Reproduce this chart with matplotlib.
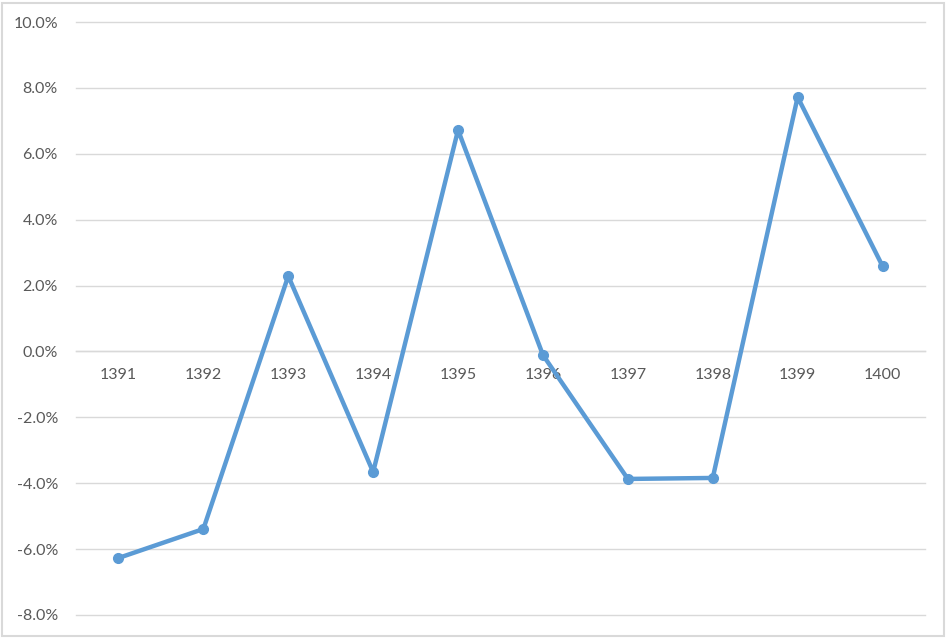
import matplotlib.pyplot as plt
from matplotlib.patches import Rectangle
from matplotlib.ticker import FuncFormatter

years = ['1391', '1392', '1393', '1394', '1395', '1396', '1397', '1398', '1399', '1400']
growth = [-6.27, -5.39, 2.29, -3.66, 6.72, -0.11, -3.87, -3.84, 7.72, 2.59]

plt.rcParams['font.family'] = ['Lato', 'DejaVu Sans']
text_color = '#595959'
grid_color = '#D9D9D9'
line_color = '#5B9BD5'

fig = plt.figure(figsize=(9.48, 6.38), dpi=100)
ax = fig.add_axes([76 / 948, 1 - 615 / 638, (925 - 76) / 948, (615 - 22) / 638])

x = list(range(len(years)))
ax.plot(x, growth, color=line_color, linewidth=3.2, marker='o', markersize=7,
        solid_joinstyle='round', zorder=3)

ax.set_xlim(-0.5, len(years) - 0.5)
ax.set_ylim(-8, 10)
ax.set_yticks(range(-8, 11, 2))
ax.yaxis.set_major_formatter(FuncFormatter(lambda v, _: f'{v:.1f}%'))
ax.grid(axis='y', color=grid_color, linewidth=1.0, zorder=0)
for gl in ax.get_ygridlines():
    gl.set_clip_on(False)

ax.set_xticks(x)
ax.set_xticklabels(years)
for s in ['top', 'right', 'left']:
    ax.spines[s].set_visible(False)
ax.spines['bottom'].set_position(('data', 0))
ax.spines['bottom'].set_color(grid_color)
ax.spines['bottom'].set_linewidth(1.0)

ax.tick_params(axis='x', length=0, pad=12, labelsize=11.5, labelcolor=text_color)
ax.tick_params(axis='y', length=0, pad=13, labelsize=11.5, labelcolor=text_color)

fig.patches.append(Rectangle((2 / 948, 2 / 638), 942 / 948, 633 / 638,
                             transform=fig.transFigure, fill=False,
                             edgecolor=grid_color, linewidth=1.5))

fig.savefig('out.png', dpi=100)
